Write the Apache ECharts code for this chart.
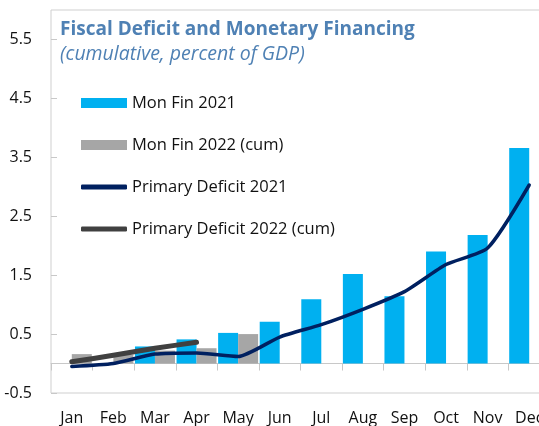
<!DOCTYPE html>
<html>
<head>
<meta charset="utf-8">
<style>
  html, body { margin: 0; padding: 0; background: #ffffff; }
  #chart { width: 539px; height: 426px; }
</style>
<script src="https://cdn.jsdelivr.net/npm/echarts@6/dist/echarts.min.js"></script>
</head>
<body>
<div id="chart"></div>
<script>
// Months on the category axis
const months = ['Jan', 'Feb', 'Mar', 'Apr', 'May', 'Jun', 'Jul', 'Aug', 'Sep', 'Oct', 'Nov', 'Dec'];

// Monetary financing, cumulative, percent of GDP
const monFin2021 = [0, 0, 0.29, 0.41, 0.52, 0.71, 1.09, 1.52, 1.14, 1.90, 2.18, 3.66];
const monFin2022 = [0.16, 0.15, 0.22, 0.26, 0.50];

// Primary deficit, cumulative, percent of GDP
const primDef2021 = [-0.05, 0.0, 0.16, 0.18, 0.12, 0.45, 0.66, 0.92, 1.22, 1.68, 1.96, 3.03];
const primDef2022 = [0.03, 0.14, 0.26, 0.36];

const FONT = '"Open Sans", "Noto Sans", sans-serif';
const TITLE_BLUE = '#4f81b4';

const chart = echarts.init(document.getElementById('chart'), null, { renderer: 'canvas' });

chart.setOption({
  animation: false,
  backgroundColor: '#ffffff',
  textStyle: { fontFamily: FONT },
  title: {
    text: 'Fiscal Deficit and Monetary Financing',
    subtext: '(cumulative, percent of GDP)',
    left: 55,
    top: 15,
    itemGap: 5,
    textStyle: { fontFamily: FONT, fontSize: 19, fontWeight: 'bold', color: TITLE_BLUE },
    subtextStyle: { fontFamily: FONT, fontSize: 19.5, fontStyle: 'italic', color: TITLE_BLUE }
  },
  legend: [
    {
      orient: 'vertical',
      left: 76,
      top: 88,
      itemWidth: 46,
      itemHeight: 10,
      itemGap: 22,
      icon: 'rect',
      textStyle: { fontFamily: FONT, fontSize: 16.5, color: '#111111', lineHeight: 20 },
      data: ['Mon Fin 2021', 'Mon Fin 2022 (cum)']
    },
    {
      orient: 'vertical',
      left: 76,
      top: 172,
      itemWidth: 46,
      itemHeight: 5,
      itemGap: 22,
      icon: 'roundRect',
      textStyle: { fontFamily: FONT, fontSize: 16.5, color: '#111111', lineHeight: 20 },
      data: ['Primary Deficit 2021', 'Primary Deficit 2022 (cum)']
    }
  ],
  grid: {
    left: 51,
    top: 10,
    width: 499,
    height: 383,
    show: true,
    borderColor: '#cfcfcf',
    borderWidth: 1,
    containLabel: false,
    outerBoundsMode: 'none'
  },
  xAxis: {
    type: 'category',
    data: months,
    position: 'bottom',
    axisLine: { onZero: true, lineStyle: { color: '#c8c8c8', width: 1 } },
    axisTick: { show: true, inside: false, length: 7, lineStyle: { color: '#c8c8c8' } },
    axisLabel: { margin: 17, fontFamily: FONT, fontSize: 16, color: '#111111', interval: 0 },
    splitLine: { show: false }
  },
  yAxis: {
    type: 'value',
    min: -0.5,
    max: 6,
    interval: 1,
    axisLine: { show: false },
    axisTick: { show: true, inside: true, length: 6, lineStyle: { color: '#c8c8c8' } },
    axisLabel: { showMaxLabel: false, margin: 19, fontFamily: FONT, fontSize: 16, color: '#111111' },
    splitLine: { show: false }
  },
  series: [
    {
      name: 'Mon Fin 2021',
      type: 'bar',
      data: monFin2021,
      barWidth: 20,
      barGap: '0%',
      itemStyle: { color: '#00b0f0' }
    },
    {
      name: 'Mon Fin 2022 (cum)',
      type: 'bar',
      data: monFin2022,
      barWidth: 20,
      barGap: '0%',
      itemStyle: { color: '#a6a6a6' }
    },
    {
      name: 'Primary Deficit 2021',
      type: 'line',
      data: primDef2021,
      smooth: 0.2,
      showSymbol: false,
      symbol: 'none',
      lineStyle: { color: '#002060', width: 3.5, cap: 'round', join: 'round' },
      itemStyle: { color: '#002060' }
    },
    {
      name: 'Primary Deficit 2022 (cum)',
      type: 'line',
      data: primDef2022,
      smooth: 0.2,
      showSymbol: false,
      symbol: 'none',
      lineStyle: { color: '#404040', width: 5, cap: 'round', join: 'round' },
      itemStyle: { color: '#404040' }
    }
  ]
});
</script>
</body>
</html>
